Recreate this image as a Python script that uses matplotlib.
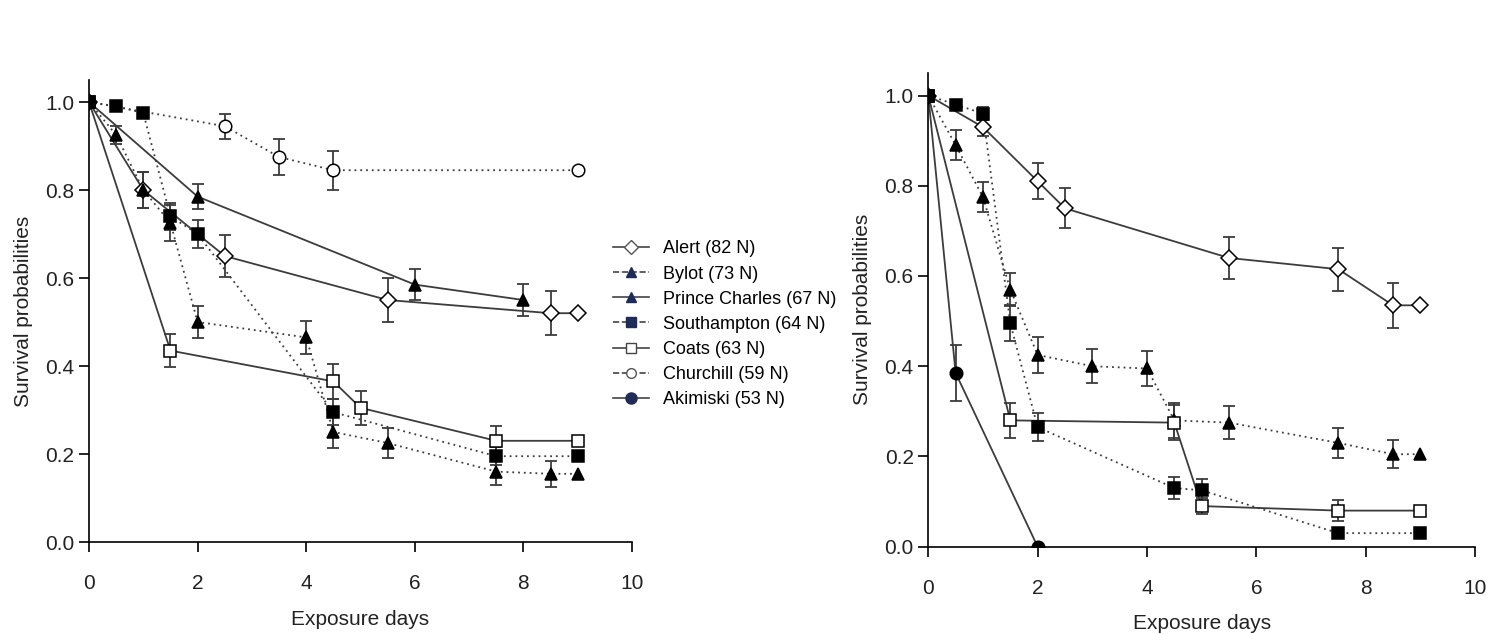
import matplotlib
matplotlib.use("Agg")
import matplotlib.pyplot as plt
from matplotlib.lines import Line2D
from matplotlib.ticker import FormatStrFormatter
import numpy as np

plt.rcParams['font.family'] = ['Liberation Sans', 'DejaVu Sans']

# ---- left panel ----
alert_L_x = [0, 1, 2.5, 5.5, 8.5, 9]
alert_L_y = [1.0, 0.80, 0.65, 0.55, 0.52, 0.52]
alert_L_e = [0, 0.04, 0.048, 0.05, 0.05, 0]

bylot_L_x = [0, 0.5, 1, 1.5, 2, 4, 4.5, 5.5, 7.5, 8.5, 9]
bylot_L_y = [1.0, 0.925, 0.80, 0.725, 0.50, 0.465, 0.25, 0.225, 0.16, 0.155, 0.155]
bylot_L_e = [0, 0.02, 0.04, 0.04, 0.037, 0.038, 0.037, 0.034, 0.03, 0.03, 0]

prince_L_x = [0, 2, 6, 8]
prince_L_y = [1.0, 0.785, 0.585, 0.55]
prince_L_e = [0, 0.028, 0.035, 0.036]

south_L_x = [0, 0.5, 1, 1.5, 2, 4.5, 7.5, 9]
south_L_y = [1.0, 0.99, 0.975, 0.74, 0.70, 0.295, 0.195, 0.195]
south_L_e = [0, 0, 0, 0.03, 0.031, 0.03, 0.02, 0]

coats_L_x = [0, 1.5, 4.5, 5, 7.5, 9]
coats_L_y = [1.0, 0.435, 0.365, 0.305, 0.23, 0.23]
coats_L_e = [0, 0.038, 0.04, 0.038, 0.034, 0]

church_L_x = [0, 2.5, 3.5, 4.5, 9]
church_L_y = [1.0, 0.945, 0.875, 0.845, 0.845]
church_L_e = [0, 0.028, 0.04, 0.044, 0]

# ---- right panel ----
alert_R_x = [0, 1, 2, 2.5, 5.5, 7.5, 8.5, 9]
alert_R_y = [1.0, 0.93, 0.81, 0.75, 0.64, 0.615, 0.535, 0.535]
alert_R_e = [0, 0.02, 0.04, 0.044, 0.047, 0.048, 0.05, 0]

bylot_R_x = [0, 0.5, 1, 1.5, 2, 3, 4, 4.5, 5.5, 7.5, 8.5, 9]
bylot_R_y = [1.0, 0.89, 0.775, 0.57, 0.425, 0.40, 0.395, 0.28, 0.275, 0.23, 0.205, 0.205]
bylot_R_e = [0, 0.033, 0.033, 0.037, 0.04, 0.038, 0.039, 0.039, 0.036, 0.033, 0.031, 0]

south_R_x = [0, 0.5, 1, 1.5, 2, 4.5, 5, 7.5, 9]
south_R_y = [1.0, 0.98, 0.96, 0.495, 0.265, 0.13, 0.125, 0.03, 0.03]
south_R_e = [0, 0.01, 0.015, 0.04, 0.031, 0.024, 0.025, 0, 0]

coats_R_x = [0, 1.5, 4.5, 5, 7.5, 9]
coats_R_y = [1.0, 0.28, 0.275, 0.09, 0.08, 0.08]
coats_R_e = [0, 0.039, 0.039, 0.018, 0.024, 0]

akim_R_x = [0, 0.5, 2]
akim_R_y = [1.0, 0.385, 0.0]
akim_R_e = [0, 0.063, 0]

labels = ["Alert (82 N)", "Bylot (73 N)", "Prince Charles (67 N)",
          "Southampton (64 N)", "Coats (63 N)", "Churchill (59 N)",
          "Akimiski (53 N)"]

LINE = "#3c3c3c"
DOT = (0, (1, 2.2))

# marker, fill, line style, marker size
styles = {
    "alert":  ("D", "white", "-", 8),
    "bylot":  ("^", "black", DOT, 9),
    "prince": ("^", "black", "-", 9),
    "south":  ("s", "black", DOT, 8),
    "coats":  ("s", "white", "-", 8),
    "church": ("o", "white", DOT, 9),
    "akim":   ("o", "black", "-", 9),
}


def draw(ax, key, x, y, e):
    m, fc, ls, ms = styles[key]
    x = np.asarray(x, float)
    y = np.asarray(y, float)
    e = np.asarray(e, float)
    ax.plot(x, y, color=LINE, lw=1.3, ls=ls, zorder=2)
    k = e > 0
    ax.errorbar(x[k], y[k], yerr=e[k], fmt="none", ecolor=LINE,
                elinewidth=1.3, capsize=4, capthick=1.3, zorder=3)
    ax.plot(x, y, ls="none", marker=m, ms=ms, mfc=fc, mec="black",
            mew=1.1, zorder=4)


def style_axes(ax):
    ax.set_xlim(0, 10)
    ax.set_ylim(0, 1.05)
    ax.set_xticks(np.arange(0, 11, 2))
    ax.set_yticks(np.arange(0, 1.01, 0.2))
    ax.yaxis.set_major_formatter(FormatStrFormatter("%.1f"))
    for s in ("top", "right"):
        ax.spines[s].set_visible(False)
    for s in ("left", "bottom"):
        ax.spines[s].set_linewidth(1.2)
    ax.tick_params(direction="out", length=7, width=1.2, labelsize=15,
                   colors="black", labelcolor="#222222")
    ax.tick_params(axis="x", pad=16)
    ax.set_xlabel("Exposure days", fontsize=15, color="#222222", labelpad=12)
    ax.set_ylabel("Survival probabilities", fontsize=15, color="#222222",
                  labelpad=9)


fig = plt.figure(figsize=(14.91, 6.34), dpi=100)
ax1 = fig.add_axes([0.0597, 0.1451, 0.3642, 0.7287])
ax2 = fig.add_axes([0.6226, 0.1377, 0.3667, 0.7472])

draw(ax1, "church", church_L_x, church_L_y, church_L_e)
draw(ax1, "prince", prince_L_x, prince_L_y, prince_L_e)
draw(ax1, "alert", alert_L_x, alert_L_y, alert_L_e)
draw(ax1, "coats", coats_L_x, coats_L_y, coats_L_e)
draw(ax1, "south", south_L_x, south_L_y, south_L_e)
draw(ax1, "bylot", bylot_L_x, bylot_L_y, bylot_L_e)

draw(ax2, "alert", alert_R_x, alert_R_y, alert_R_e)
draw(ax2, "bylot", bylot_R_x, bylot_R_y, bylot_R_e)
draw(ax2, "coats", coats_R_x, coats_R_y, coats_R_e)
draw(ax2, "south", south_R_x, south_R_y, south_R_e)
draw(ax2, "akim", akim_R_x, akim_R_y, akim_R_e)

style_axes(ax1)
style_axes(ax2)

# legend handles use dashed lines and navy fills
NAVY = "#1f2c5a"
leg_specs = [
    ("D", "white", "#555555", "-", 7),
    ("^", NAVY, NAVY, "--", 7),
    ("^", NAVY, NAVY, "-", 7),
    ("s", NAVY, NAVY, "--", 7),
    ("s", "white", "#444444", "-", 7),
    ("o", "white", "#555555", "--", 7),
    ("o", NAVY, NAVY, "-", 8),
]
handles = [Line2D([], [], color="#444444", lw=1.2, ls=ls, marker=m, ms=ms,
                  mfc=fc, mec=ec, mew=1.0)
           for (m, fc, ec, ls, ms) in leg_specs]
fig.legend(handles, labels, loc="upper left", bbox_to_anchor=(0.405, 0.635),
           frameon=False, fontsize=13, handlelength=2.0, handletextpad=0.8,
           labelspacing=0.45, borderpad=0)

fig.savefig("out.png", dpi=100)
